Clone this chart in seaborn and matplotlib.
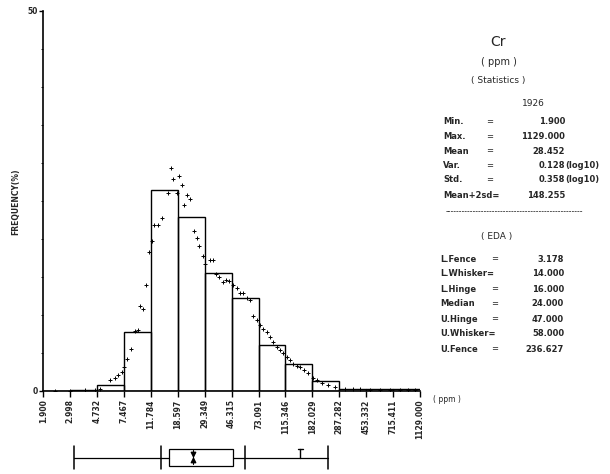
import numpy as np
import pandas as pd
import matplotlib
matplotlib.use("Agg")
import matplotlib.pyplot as plt
from matplotlib.patches import Rectangle
import seaborn as sns

# ---------------- data ----------------
tick_values = [1.900, 2.998, 4.732, 7.467, 11.784, 18.597, 29.349, 46.315,
               73.091, 115.346, 182.029, 287.282, 453.332, 715.411, 1129.000]
tick_labels = ["1.900", "2.998", "4.732", "7.467", "11.784", "18.597", "29.349",
               "46.315", "73.091", "115.346", "182.029", "287.282", "453.332",
               "715.411", "1129.000"]
bar_freq = [0.05, 0.1, 0.8, 7.8, 26.4, 22.9, 15.5, 12.2, 6.0, 3.5, 1.35, 0.3, 0.25, 0.2]

dot_ppm = [2.32, 2.99, 3.85, 4.57, 4.97, 5.89, 6.41, 6.78, 7.18, 7.47, 7.82, 8.41,
           9.00, 9.52, 9.79, 10.36, 10.84, 11.41, 11.94, 12.48, 13.36, 14.30,
           15.67, 16.65, 17.23, 18.25, 19.07, 19.87, 20.76, 21.62, 22.75, 24.60,
           25.62, 26.78, 28.37, 29.50, 32.10, 33.61, 35.54, 37.59, 39.82, 42.10,
           44.53, 47.65, 50.48, 53.39, 56.46, 59.81, 63.26, 66.89, 70.87, 74.95,
           79.26, 83.96, 88.81, 93.92, 99.50, 105.2, 111.3, 117.9, 124.7, 131.9,
           139.7, 147.7, 158.1, 170.1, 185.1, 196.1, 214.5, 237.5, 267.0, 316.5,
           360.0, 408.0, 480.0, 572.0, 680.0, 805.0, 920.0, 1036.0]
dot_freq = [0.03, 0.05, 0.08, 0.1, 0.22, 1.45, 1.75, 2.07, 2.54, 3.2, 4.17, 5.53,
            7.9, 7.99, 11.2, 10.75, 14.0, 18.25, 19.7, 21.8, 21.8, 22.8,
            26.0, 29.3, 27.9, 26.1, 28.3, 27.1, 24.5, 25.8, 25.2, 21.05,
            20.1, 19.1, 17.8, 16.7, 17.2, 17.2, 15.4, 15.0, 14.3, 14.6,
            14.5, 13.9, 13.6, 12.9, 12.85, 12.3, 12.0, 9.9, 9.3, 8.7,
            8.2, 7.7, 7.1, 6.4, 5.8, 5.4, 5.0, 4.5, 4.1, 3.6,
            3.3, 3.1, 2.8, 2.4, 1.7, 1.45, 1.1, 0.8, 0.5, 0.26,
            0.22, 0.2, 0.16, 0.13, 0.14, 0.13, 0.1, 0.07]

element = "Cr"
unit = "( ppm )"
n_samples = "1926"
stat_names = ["Min.", "Max.", "Mean", "Var.", "Std.", "Mean+2sd="]
stat_values = ["1.900", "1129.000", "28.452", "0.128", "0.358", "148.255"]
stat_suffix = ["", "", "", "(log10)", "(log10)", ""]
eda_names = ["L.Fence", "L.Whisker=", "L.Hinge", "Median", "U.Hinge", "U.Whisker=", "U.Fence"]
eda_values = [3.178, 14.000, 16.000, 24.000, 47.000, 58.000, 236.627]
mean_2sd = 148.255

# ---------------- figure ----------------
sns.set_theme(style="white")
plt.rcParams["font.family"] = ["DejaVu Sans"]
W, H = 610, 474
fig = plt.figure(figsize=(W / 100, H / 100), dpi=100)

def fx(px):
    return px / W

def fy(py):
    return 1 - py / H

x_left, x_right = 43.3, 420.0
y_top, y_zero = 11.0, 391.0
ax = fig.add_axes([fx(x_left), fy(y_zero), fx(x_right) - fx(x_left), fy(y_top) - fy(y_zero)])

edges = np.array(tick_values)
centers = np.sqrt(edges[:-1] * edges[1:])
hist_df = pd.DataFrame({"ppm": centers, "freq": bar_freq})
sns.histplot(data=hist_df, x="ppm", weights="freq", bins=list(np.log10(edges)),
             log_scale=True, stat="count", fill=False, element="bars",
             color="black", linewidth=1.0, ax=ax)

dot_df = pd.DataFrame({"ppm": dot_ppm, "freq": dot_freq})
sns.scatterplot(data=dot_df, x="ppm", y="freq", marker="+", s=10,
                color="black", linewidth=0.7, ax=ax, zorder=3)

ax.set_xscale("log")
ax.set_xlim(tick_values[0], tick_values[-1])
ax.set_ylim(0, 50)
for s in ["top", "right"]:
    ax.spines[s].set_visible(False)
for s in ["left", "bottom"]:
    ax.spines[s].set_color("black")
    ax.spines[s].set_linewidth(1.2)

ax.set_xticks(tick_values)
ax.set_xticklabels(tick_labels, rotation=90, fontsize=5.5, fontweight="bold")
ax.xaxis.set_minor_locator(matplotlib.ticker.NullLocator())
ax.tick_params(axis="x", which="major", direction="out", length=4, width=1,
               color="black", bottom=True, pad=2)
ax.set_yticks([0, 50])
ax.set_yticklabels(["0", "50"], fontsize=5.5, fontweight="bold")
ax.set_yticks(np.arange(5, 50, 5), minor=True)
ax.tick_params(axis="y", which="major", direction="out", length=3, width=1,
               color="black", left=True, pad=1)
ax.tick_params(axis="y", which="minor", direction="out", length=1.5, width=0.6,
               color="black", left=True)
ax.set_xlabel("")
ax.set_ylabel("")
ax.grid(False)

fig.text(fx(16), fy(202), "FREQUENCY(%)", rotation=90, ha="center", va="center",
         fontsize=5.5, fontweight="bold")
fig.text(fx(433), fy(400), "( ppm )", ha="left", va="center", fontsize=5.5)

# ---------------- box plot ----------------
bax = fig.add_axes([fx(x_left), fy(470), fx(x_right) - fx(x_left), fy(445) - fy(470)])
bax.set_xscale("log")
bax.set_xlim(tick_values[0], tick_values[-1])
bax.set_ylim(0, 1)
bax.axis("off")
lf, lw, lh, md, uh, uw, uf = eda_values
yc = 0.5
bax.plot([lf, lh], [yc, yc], color="black", lw=0.9)
bax.plot([uh, uf], [yc, yc], color="black", lw=0.9)
for v in [lf, lw, uw, uf]:
    bax.plot([v, v], [0.05, 0.95], color="black", lw=1.1)
bax.add_patch(Rectangle((lh, 0.18), uh - lh, 0.68, fill=False, edgecolor="black", lw=0.9))
bax.plot([md, md], [0.25, 0.8], color="black", lw=0.8)
bax.scatter([md], [0.64], marker="v", s=10, color="black")
bax.scatter([md], [0.40], marker="^", s=10, color="black")
bax.plot([mean_2sd, mean_2sd], [yc, 0.85], color="black", lw=1.0)
bax.plot([mean_2sd / 1.04, mean_2sd * 1.04], [0.85, 0.85], color="black", lw=1.0)

# ---------------- text panel ----------------
fs = 6.0
fig.text(fx(498), fy(42), element, ha="center", va="center", fontsize=10)
fig.text(fx(499), fy(62), unit, ha="center", va="center", fontsize=7)
fig.text(fx(498), fy(81), "( Statistics )", ha="center", va="center", fontsize=6.5)
fig.text(fx(533), fy(103), n_samples, ha="center", va="center", fontsize=6.5)

stat_rows_y = [122, 136.5, 151, 165.5, 180, 195]
for name, val, suf, yy in zip(stat_names, stat_values, stat_suffix, stat_rows_y):
    fig.text(fx(443), fy(yy), name, ha="left", va="center", fontsize=fs, fontweight="bold")
    if not name.endswith("="):
        fig.text(fx(490), fy(yy), "=", ha="center", va="center", fontsize=fs)
    fig.text(fx(565), fy(yy), val, ha="right", va="center", fontsize=fs, fontweight="bold")
    if suf:
        fig.text(fx(565), fy(yy), suf, ha="left", va="center", fontsize=fs, fontweight="bold")

fig.text(fx(514), fy(212), "-" * 50, ha="center", va="center", fontsize=5.5)

fig.text(fx(497), fy(237), "( EDA )", ha="center", va="center", fontsize=6.5)
eda_rows_y = [259, 274, 289, 304, 319, 334, 349]
for name, val, yy in zip(eda_names, eda_values, eda_rows_y):
    fig.text(fx(440), fy(yy), name, ha="left", va="center", fontsize=fs, fontweight="bold")
    if not name.endswith("="):
        fig.text(fx(495), fy(yy), "=", ha="center", va="center", fontsize=fs)
    fig.text(fx(564), fy(yy), f"{val:.3f}", ha="right", va="center", fontsize=fs,
             fontweight="bold")

fig.savefig("out.png", dpi=100, facecolor="white")
